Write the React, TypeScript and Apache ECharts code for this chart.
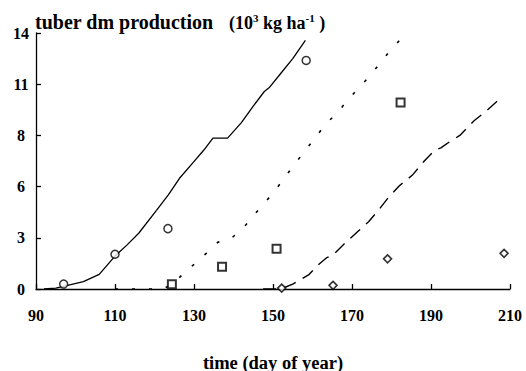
import React, { useEffect, useRef } from "react";
import * as echarts from "echarts";

// x ticks (day of year) and y ticks (10^3 kg/ha)
const xMin = 90;
const xMax = 210;
const xStep = 20;
const yMin = 0;
const yMax = 14;
const yStep = 2.8;

// simulated curves [day, value]
const simSolid: number[][] = [
  [92, 0], [95, 0.05], [98, 0.2], [102, 0.4], [106, 0.8], [110, 1.8], [113, 2.4],
  [116, 3.05], [120.5, 4.3], [123.5, 5.15], [126.5, 6.1], [129.7, 6.9], [132.5, 7.6],
  [134.8, 8.25], [138.5, 8.25], [142, 9.1], [145, 10.0], [147.8, 10.8], [149, 11.0],
  [152, 11.8], [155, 12.6], [158.2, 13.6],
];
const simDotted: number[][] = [
  [110, 0], [122, 0], [124.5, 0.25], [126.8, 0.73], [130, 1.35], [133.1, 1.95],
  [136, 2.55], [139.6, 2.8], [142.6, 3.37], [145.3, 4.08], [148, 4.74], [150.6, 5.4],
  [153.1, 6.14], [155.5, 6.83], [158.1, 7.56], [160.9, 8.32], [163.2, 9.0],
  [165.9, 9.55], [168.6, 10.24], [171.4, 10.93], [174.2, 11.57], [176.7, 12.24],
  [179.4, 12.97], [182.3, 13.66],
];
const simDashed: number[][] = [
  [147.5, 0], [152, 0], [155, 0.27], [159, 0.77], [161.7, 1.37], [163.5, 1.7],
  [165.2, 1.86], [168, 2.46], [171.4, 3.13], [174.2, 3.68], [176.9, 4.36],
  [179.2, 5.0], [182, 5.65], [185.3, 6.23], [188.3, 7.0], [190.8, 7.56],
  [192.5, 7.72], [194.7, 8.05], [197.3, 8.4], [200.9, 9.2], [203.6, 9.66],
  [206.9, 10.3],
];

// observations [day, value]
const obsCircles: number[][] = [[97, 0.27], [110, 1.9], [123.4, 3.3], [158.4, 12.5]];
const obsSquares: number[][] = [[124.4, 0.26], [137.1, 1.22], [150.9, 2.2], [182.3, 10.2]];
const obsDiamonds: number[][] = [[152.2, 0.05], [165.2, 0.2], [179, 1.65], [208.5, 1.95]];

const titleMain = "tuber dm production";
// unit parts: [text, isSuperscript]
const titleUnitParts: [string, boolean][] = [
  ["(10", false],
  ["3", true],
  [" kg ha", false],
  ["-1", true],
  [" )", false],
];
const xAxisName = "time (day of year)";

const FONT = "Liberation Serif";

function measure(text: string, size: number): number {
  const c = document.createElement("canvas").getContext("2d");
  if (!c) return text.length * size * 0.5;
  c.font = `bold ${size}px "${FONT}"`;
  return c.measureText(text).width;
}

export default function App() {
  const ref = useRef<HTMLDivElement>(null);
  useEffect(() => {
    document.body.style.margin = "0";
    if (!ref.current) return;
    const chart = echarts.init(ref.current, undefined, { renderer: "svg" });
    const lineBase = { type: "line", showSymbol: false, symbol: "none", smooth: false, z: 2 };

    const graphics: any[] = [];
    let cx = 229;
    titleUnitParts.forEach(([t, sup]) => {
      const size = sup ? 11 : 18;
      graphics.push({
        type: "text",
        x: cx,
        y: sup ? 17.8 : 22.9,
        style: {
          text: t,
          fontFamily: FONT,
          fontSize: size,
          fontWeight: "bold",
          fill: "#000",
          align: "left",
          verticalAlign: "middle",
        },
      });
      cx += measure(t, size);
    });

    chart.setOption({
      animation: false,
      backgroundColor: "#ffffff",
      textStyle: { fontFamily: FONT, color: "#000" },
      title: {
        text: titleMain,
        left: 35,
        top: 11,
        padding: 0,
        textStyle: { fontFamily: FONT, fontSize: 20, fontWeight: "bold", color: "#000", lineHeight: 22 },
      },
      grid: { left: 36, right: 16, top: 33, bottom: 82, containLabel: false, outerBoundsMode: "none" },
      graphic: graphics,
      xAxis: {
        type: "value",
        min: xMin,
        max: xMax,
        interval: xStep,
        name: xAxisName,
        nameLocation: "middle",
        nameGap: 64,
        nameTextStyle: { fontFamily: FONT, fontSize: 18.5, fontWeight: "bold", color: "#000" },
        axisLine: { show: true, lineStyle: { color: "#000", width: 1.3 } },
        axisTick: { show: true, inside: true, length: 5, lineStyle: { color: "#000", width: 1.3 } },
        axisLabel: { margin: 18, fontFamily: FONT, fontSize: 16, fontWeight: "bold", color: "#000" },
        splitLine: { show: false },
      },
      yAxis: {
        type: "value",
        min: yMin,
        max: yMax,
        interval: yStep,
        axisLine: { show: true, lineStyle: { color: "#000", width: 1.3 } },
        axisTick: { show: true, inside: true, length: 5, lineStyle: { color: "#000", width: 1.3 } },
        axisLabel: {
          margin: 15,
          align: "center",
          fontFamily: FONT,
          fontSize: 16,
          fontWeight: "bold",
          color: "#000",
          formatter: (v: number) => String(Math.round(v)),
        },
        splitLine: { show: false },
      },
      series: [
        { ...lineBase, data: simSolid, lineStyle: { color: "#000", width: 1.3, type: "solid" } },
        { ...lineBase, data: simDotted, lineStyle: { color: "#000", width: 1.6, type: [3, 14] } },
        { ...lineBase, data: simDashed, lineStyle: { color: "#000", width: 1.4, type: [13, 8] } },
        {
          type: "scatter",
          data: obsCircles,
          symbol: "circle",
          symbolSize: 8,
          itemStyle: { color: "#fff", borderColor: "#000", borderWidth: 1.5 },
          z: 3,
        },
        {
          type: "scatter",
          data: obsSquares,
          symbol: "rect",
          symbolSize: 8,
          itemStyle: { color: "#fff", borderColor: "#000", borderWidth: 2 },
          z: 3,
        },
        {
          type: "scatter",
          data: obsDiamonds,
          symbol: "diamond",
          symbolSize: [8, 8],
          itemStyle: { color: "#fff", borderColor: "#000", borderWidth: 1.6 },
          z: 3,
        },
      ],
    });
    return () => chart.dispose();
  }, []);
  return <div ref={ref} style={{ width: 526, height: 371 }} />;
}
